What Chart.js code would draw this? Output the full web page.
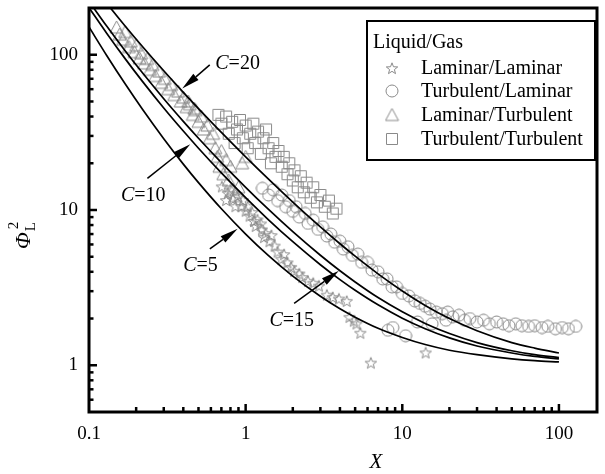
<!DOCTYPE html>
<html><head><meta charset="utf-8">
<script src="https://cdn.jsdelivr.net/npm/chart.js@4.4.0/dist/chart.umd.min.js"></script>
<style>html,body{margin:0;padding:0;background:#fff;} #wrap{width:605px;height:474px;}</style>
</head><body><div id="wrap"><canvas id="c" width="605" height="474"></canvas></div>
<script>
// ---------- data ----------
const xTickLabels = [0.1, 1, 10, 100];
const yTickLabels = [1, 10, 100];

const curveX   = [0.1,0.13,0.17,0.22,0.3,0.4,0.5,0.7,1,1.4,2,3,4,5,7,10,14,20,30,50,70,100];
const curveC5  = [151,98.6,65.0,44.4,28.8,19.75,15,10.18,7,5.08,3.75,2.78,2.31,2.04,1.73,1.51,1.36,1.25,1.17,1.10,1.07,1.05];
const curveC10 = [201,137.1,94.4,67.1,45.4,32.25,25,17.33,12,8.65,6.25,4.44,3.56,3.04,2.45,2.01,1.72,1.50,1.33,1.20,1.14,1.10];
const curveC15 = [221,152.5,106.2,76.2,52.1,37.25,29,20.2,14,10.08,7.25,5.11,4.06,3.44,2.73,2.21,1.86,1.60,1.40,1.24,1.17,1.12];
const curveC20 = [301,214,153.2,112.6,78.8,57.25,45,31.6,22,15.8,11.25,7.78,6.06,5.04,3.88,3.01,2.43,2.0,1.67,1.40,1.29,1.20];

const starX = [0.705,0.75,0.77,0.8,0.83,0.86,0.89,0.94,0.96,1.0,1.03,1.06,1.1,1.13,1.16,1.19,1.25,1.27,1.31,1.34,1.42,1.46,1.53,1.6,1.69,1.76,1.85,1.95,2.04,2.2,2.3,2.5,2.7,2.94,3.3,3.6,3.94,4.42,4.6,4.9,5.1,5.4,6.3,14.1];
const starY = [14.2,11.6,12.9,13.6,11.8,10.6,12.3,10.6,11.6,9.9,10.6,9.2,9.7,8.5,7.9,8.7,8.2,7.5,6.7,7.1,6.3,6.9,5.9,5.4,4.85,5.2,4.6,4.3,4.06,3.9,3.7,3.5,3.4,3.26,2.85,2.75,2.69,2.6,2.05,1.94,1.86,1.62,1.04,1.21];

const circleX = [1.28,1.4,1.5,1.6,1.7,1.8,1.9,2.0,2.1,2.2,2.4,2.5,2.7,2.9,3.1,3.3,3.5,3.7,4.0,4.2,4.5,4.8,5.2,5.5,6.0,6.4,7.0,7.5,8.0,8.6,9.2,10,11,12,13,14,15,16.5,18,19.5,21,23,25,27,30,33,36,40,44,48,53,58,64,70,78,85,95,105,115,128,8.1,8.7,10.5,12.5,15.5,19];
const circleY = [13.8,12.5,13.5,11.5,12.5,10.5,11.5,9.8,10.5,9.0,9.5,8.2,8.6,7.5,7.8,6.8,7.0,6.2,6.3,5.6,5.8,5.1,5.2,4.6,4.6,4.1,4.0,3.6,3.6,3.2,3.2,2.9,2.8,2.6,2.5,2.4,2.3,2.2,2.15,2.2,2.05,2.1,1.95,2.0,1.9,1.95,1.85,1.9,1.85,1.8,1.85,1.8,1.78,1.8,1.75,1.78,1.72,1.75,1.72,1.78,1.68,1.75,1.55,1.9,1.85,1.95];

const triX = [0.15,0.157,0.165,0.17,0.18,0.185,0.195,0.2,0.21,0.215,0.225,0.235,0.245,0.255,0.265,0.28,0.29,0.305,0.32,0.335,0.35,0.37,0.385,0.4,0.42,0.43,0.44,0.46,0.47,0.48,0.5,0.52,0.54,0.57,0.59,0.62,0.64,0.66,0.68,0.7,0.72,0.75,0.78,0.8,0.83,0.86,0.9,0.95,1.0];
const triY = [150,135,125,140,112,122,104,115,95,102,88,94,80,86,73,78,66,70,60,64,55,58,50,53,46,50,48,41,45,44,37,40,33,35,29,31,25,22,19,24,17,21,15.5,19,13.5,12.3,14,20,22];

const sqX = [0.67,0.7,0.75,0.78,0.82,0.85,0.88,0.92,0.96,1.0,1.03,1.07,1.12,1.15,1.2,1.25,1.3,1.35,1.4,1.45,1.5,1.55,1.62,1.7,1.75,1.85,1.9,2.0,2.05,2.15,2.25,2.35,2.45,2.6,2.7,2.85,3.0,3.2,3.4,3.6,3.8];
const sqY = [41,36,40,31,37,27,33,38,29,35,25,31,36,27,32,23,29,33,25,20,27,22,24,19,22,17,20,15.5,18,14,16.5,13,15,12,14,11.2,12.5,10.5,11.5,9.5,10.2];

const seriesNames = ['Laminar/Laminar','Turbulent/Laminar','Laminar/Turbulent','Turbulent/Turbulent'];
const legendTitle = 'Liquid/Gas';

// ---------- markers ----------
const GRAY = '#8a8a8a';
function makeMarker(kind, size){
  const c = document.createElement('canvas'); c.width = size; c.height = size;
  const g = c.getContext('2d'); g.strokeStyle = GRAY; g.lineWidth = 1; const m = size/2;
  g.beginPath();
  if (kind === 'circle') g.arc(m, m, m-1, 0, 2*Math.PI);
  else if (kind === 'square') g.rect(1.5, 1.5, size-3, size-3);
  else if (kind === 'triangle') { g.moveTo(m, 1); g.lineTo(size-1, size-2); g.lineTo(1, size-2); g.closePath(); }
  else if (kind === 'star') {
    for (let i = 0; i < 10; i++) {
      const r = (i % 2) ? (m-1)*0.42 : (m-1);
      const a = -Math.PI/2 + i*Math.PI/5;
      const x = m + r*Math.cos(a), y = m + 0.8 + r*Math.sin(a);
      if (i) g.lineTo(x, y); else g.moveTo(x, y);
    }
    g.closePath();
  }
  g.stroke();
  return c;
}
const mStar = makeMarker('star', 14), mCircle = makeMarker('circle', 14), mTri = makeMarker('triangle', 15), mSq = makeMarker('square', 14);
const markers = [mStar, mCircle, mTri, mSq];

const pts = (xs, ys) => xs.map((x, i) => ({x, y: ys[i]}));

function scatterSet(xs, ys, img){
  return {data: pts(xs, ys), pointStyle: img, pointRadius: 7, pointHoverRadius: 7, showLine: false, order: 2};
}
function curveSet(ys){
  return {data: pts(curveX, ys), showLine: true, pointRadius: 0, borderColor: '#000', borderWidth: 1.7,
          cubicInterpolationMode: 'monotone', fill: false, order: 0};
}

const notes = [
  {c:'20', tx:0.64,  ty:87.5, ax:0.59,  ay:86,   bx:0.394, by:60.5},
  {c:'10', tx:0.16,  ty:12.3, ax:0.236, ay:16.0, bx:0.443, by:26.5},
  {c:'5',  tx:0.399, ty:4.38, ax:0.591, ay:5.62, bx:0.889, by:7.56},
  {c:'15', tx:1.42,  ty:1.94, ax:2.04,  ay:2.5,  bx:3.94,  by:4.06}
];

const SERIF = '"Liberation Serif","Times New Roman",serif';

const deco = {
  id: 'deco',
  afterDatasetsDraw(chart){
    const ctx = chart.ctx, a = chart.chartArea, xs = chart.scales.x, ys = chart.scales.y;
    ctx.save();
    ctx.strokeStyle = '#000';
    const yt = [];
    [0.1,1,10,100].forEach(d => { for (let k = 1; k < 10; k++) yt.push(k*d); });
    ctx.lineWidth = 2.5;
    yt.forEach(v => {
      if (v <= 0.5 || v >= 200) return;
      const major = yTickLabels.includes(v);
      const y = ys.getPixelForValue(v);
      ctx.beginPath(); ctx.moveTo(a.left, y); ctx.lineTo(a.left + (major ? 8 : 4.5), y); ctx.stroke();
    });
    const xt = [];
    [0.1,1,10,100].forEach(d => { for (let k = 1; k < 10; k++) xt.push(k*d); });
    xt.forEach(v => {
      if (v <= 0.1 || v >= 175) return;
      const major = xTickLabels.includes(v);
      const x = xs.getPixelForValue(v);
      ctx.beginPath(); ctx.moveTo(x, a.bottom); ctx.lineTo(x, a.bottom - (major ? 8 : 5)); ctx.stroke();
    });
    ctx.lineWidth = 3;
    ctx.strokeRect(a.left, a.top, a.right - a.left, a.bottom - a.top);
    ctx.restore();
  },
  afterDraw(chart){
    const ctx = chart.ctx, xs = chart.scales.x, ys = chart.scales.y;
    ctx.save();
    notes.forEach(n => {
      const x0 = xs.getPixelForValue(n.ax), y0 = ys.getPixelForValue(n.ay);
      const x1 = xs.getPixelForValue(n.bx), y1 = ys.getPixelForValue(n.by);
      const ang = Math.atan2(y1 - y0, x1 - x0), L = 18, W = 4;
      const bxp = x1 - L*Math.cos(ang), byp = y1 - L*Math.sin(ang);
      ctx.strokeStyle = '#000'; ctx.fillStyle = '#000'; ctx.lineWidth = 1.5;
      ctx.beginPath(); ctx.moveTo(x0, y0); ctx.lineTo(bxp, byp); ctx.stroke();
      ctx.beginPath(); ctx.moveTo(x1, y1);
      ctx.lineTo(bxp + W*Math.sin(ang), byp - W*Math.cos(ang));
      ctx.lineTo(bxp - W*Math.sin(ang), byp + W*Math.cos(ang));
      ctx.closePath(); ctx.fill();
      const tx = xs.getPixelForValue(n.tx), ty = ys.getPixelForValue(n.ty);
      ctx.textBaseline = 'middle'; ctx.textAlign = 'left';
      ctx.font = 'italic 20px ' + SERIF; ctx.fillText('C', tx, ty);
      const w = ctx.measureText('C').width;
      ctx.font = '20px ' + SERIF; ctx.fillText('=' + n.c, tx + w, ty);
    });
    ctx.lineWidth = 2; ctx.strokeStyle = '#000';
    ctx.strokeRect(367, 21, 228, 139);
    ctx.fillStyle = '#000'; ctx.font = '20px ' + SERIF; ctx.textBaseline = 'middle'; ctx.textAlign = 'left';
    ctx.fillText(legendTitle, 373, 43);
    const rows = [68, 91, 115, 139];
    seriesNames.forEach((s, i) => {
      const img = markers[i];
      ctx.drawImage(img, 392 - img.width/2, rows[i] - img.height/2);
      ctx.fillText(s, 421, rows[i] + 1);
    });
    ctx.font = 'italic 21px ' + SERIF; ctx.textAlign = 'center'; ctx.textBaseline = 'middle';
    ctx.fillText('X', 376, 462);
    ctx.translate(30, 249); ctx.rotate(-Math.PI/2);
    ctx.textAlign = 'left'; ctx.textBaseline = 'alphabetic';
    ctx.font = 'italic 22px ' + SERIF; ctx.fillText('\u03A6', 0, 0);
    const pw = ctx.measureText('\u03A6').width;
    ctx.font = '15px ' + SERIF; ctx.fillText('L', pw + 1, 5);
    ctx.fillText('2', pw + 3, -12);
    ctx.restore();
  }
};

new Chart(document.getElementById('c'), {
  type: 'scatter',
  data: { datasets: [
    curveSet(curveC5), curveSet(curveC10), curveSet(curveC15), curveSet(curveC20),
    scatterSet(circleX, circleY, mCircle),
    scatterSet(sqX, sqY, mSq),
    scatterSet(triX, triY, mTri),
    scatterSet(starX, starY, mStar)
  ]},
  options: {
    responsive: false, animation: false, devicePixelRatio: 1,
    layout: { padding: { left: 0, right: 5, top: 7, bottom: 0 } },
    plugins: { legend: { display: false }, tooltip: { enabled: false } },
    scales: {
      x: {
        type: 'logarithmic', min: 0.1, max: 175, position: 'bottom',
        grid: { display: false, drawTicks: false, tickLength: 0 }, border: { display: false },
        afterBuildTicks: s => { s.ticks = xTickLabels.map(v => ({value: v})); },
        afterFit: s => { s.height = 62; s.paddingLeft = 0; s.paddingRight = 0; },
        ticks: { autoSkip: false, maxRotation: 0, padding: 11, color: '#000',
                 font: { family: SERIF, size: 19 }, callback: v => String(v) }
      },
      y: {
        type: 'logarithmic', min: 0.5, max: 200, position: 'left',
        grid: { display: false, drawTicks: false, tickLength: 0 }, border: { display: false },
        afterBuildTicks: s => { s.ticks = yTickLabels.map(v => ({value: v})); },
        afterFit: s => { s.width = 89; s.paddingTop = 0; s.paddingBottom = 0; },
        ticks: { autoSkip: false, padding: 11, color: '#000',
                 font: { family: SERIF, size: 19 }, callback: v => String(v) }
      }
    }
  },
  plugins: [deco]
});
</script>
</body></html>
